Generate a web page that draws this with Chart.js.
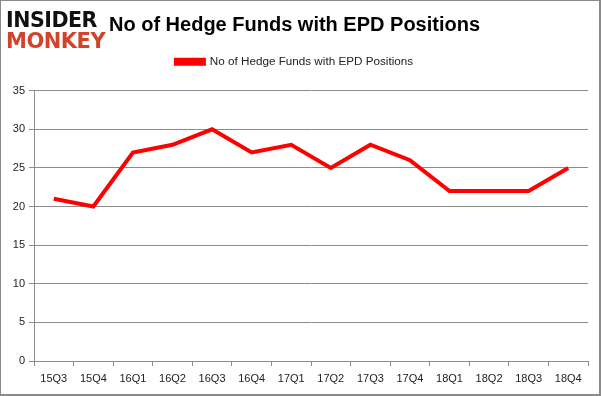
<!DOCTYPE html>
<html>
<head>
<meta charset="utf-8">
<script src="https://cdn.jsdelivr.net/npm/chart.js@4.4.0/dist/chart.umd.min.js"></script>
<style>
    html, body { margin: 0; padding: 0; background: #fff; }
    #frame {
        position: relative;
        width: 601px;
        height: 396px;
        box-sizing: border-box;
        border: 1px solid #8a8a8a;
        border-right-width: 2px;
        border-bottom-width: 2px;
        overflow: hidden;
    }
    #chart { position: absolute; left: 0; top: 0; }
    .logo {
        position: absolute;
        left: 5px;
        font-family: "DejaVu Sans", sans-serif;
        font-weight: bold;
        font-size: 21px;
        line-height: 20px;
        letter-spacing: -0.5px;
        transform-origin: left top;
    }
    #logo1 { top: 9px; color: #111; transform: scaleX(0.98); }
    #logo2 { top: 30px; color: #d2432c; transform: scaleX(1.0); }
</style>
</head>
<body>
<div id="frame">
    <canvas id="chart" width="599" height="393"></canvas>
    <div class="logo" id="logo1">INSIDER</div>
    <div class="logo" id="logo2">MONKEY</div>
</div>
<script>
    const quarters = ['15Q3', '15Q4', '16Q1', '16Q2', '16Q3', '16Q4', '17Q1', '17Q2', '17Q3', '17Q4', '18Q1', '18Q2', '18Q3', '18Q4'];
    const fundCounts = [21, 20, 27, 28, 30, 27, 28, 25, 28, 26, 22, 22, 22, 25];
    const yTicks = [0, 5, 10, 15, 20, 25, 30, 35];

    const gridGray = '#8c8c8c';
    const tickFont = { family: 'Liberation Sans, Arial, sans-serif', size: 11 };

    // extra room under the legend, like the gap in the original
    const legendGap = {
        id: 'legendGap',
        beforeInit(chart) {
            const fit = chart.legend.fit;
            chart.legend.fit = function () {
                fit.call(this);
                this.height += 13;
            };
        },
    };

    const ctx = document.getElementById('chart');
    new Chart(ctx, {
        type: 'line',
        data: {
            labels: quarters,
            datasets: [
                {
                    label: 'No of Hedge Funds with EPD Positions',
                    data: fundCounts,
                    borderColor: '#ff0000',
                    backgroundColor: '#ff0000',
                    borderWidth: 4,
                    pointRadius: 0,
                    tension: 0,
                    fill: false,
                },
            ],
        },
        options: {
            responsive: false,
            animation: false,
            layout: {
                padding: { top: 12, right: 12, bottom: 0, left: 0 },
            },
            plugins: {
                title: {
                    display: true,
                    text: 'No of Hedge Funds with EPD Positions',
                    color: '#000',
                    font: { family: 'Liberation Sans, Arial, sans-serif', size: 20, weight: 'bold' },
                    padding: { top: 0, bottom: 7 },
                },
                legend: {
                    position: 'top',
                    labels: {
                        color: '#222',
                        font: { family: 'Liberation Sans, Arial, sans-serif', size: 11.7 },
                        boxWidth: 28,
                        boxHeight: 4,
                        padding: 12,
                    },
                },
                tooltip: { enabled: false },
            },
            scales: {
                x: {
                    offset: true,
                    grid: {
                        display: true,
                        offset: true,
                        drawOnChartArea: false,
                        color: gridGray,
                        tickLength: 5,
                    },
                    border: { color: gridGray },
                    ticks: { color: '#222', font: tickFont, padding: 6, maxRotation: 0 },
                    afterFit: (scale) => { scale.height = 33; },
                },
                y: {
                    min: 0,
                    max: 35,
                    afterBuildTicks: (scale) => {
                        scale.ticks = yTicks.map((v) => ({ value: v }));
                    },
                    grid: { color: gridGray, tickLength: 5 },
                    border: { color: gridGray },
                    ticks: { color: '#222', font: tickFont, padding: 4 },
                    afterFit: (scale) => { scale.width = 33; },
                },
            },
        },
        plugins: [legendGap],
    });
</script>
</body>
</html>
